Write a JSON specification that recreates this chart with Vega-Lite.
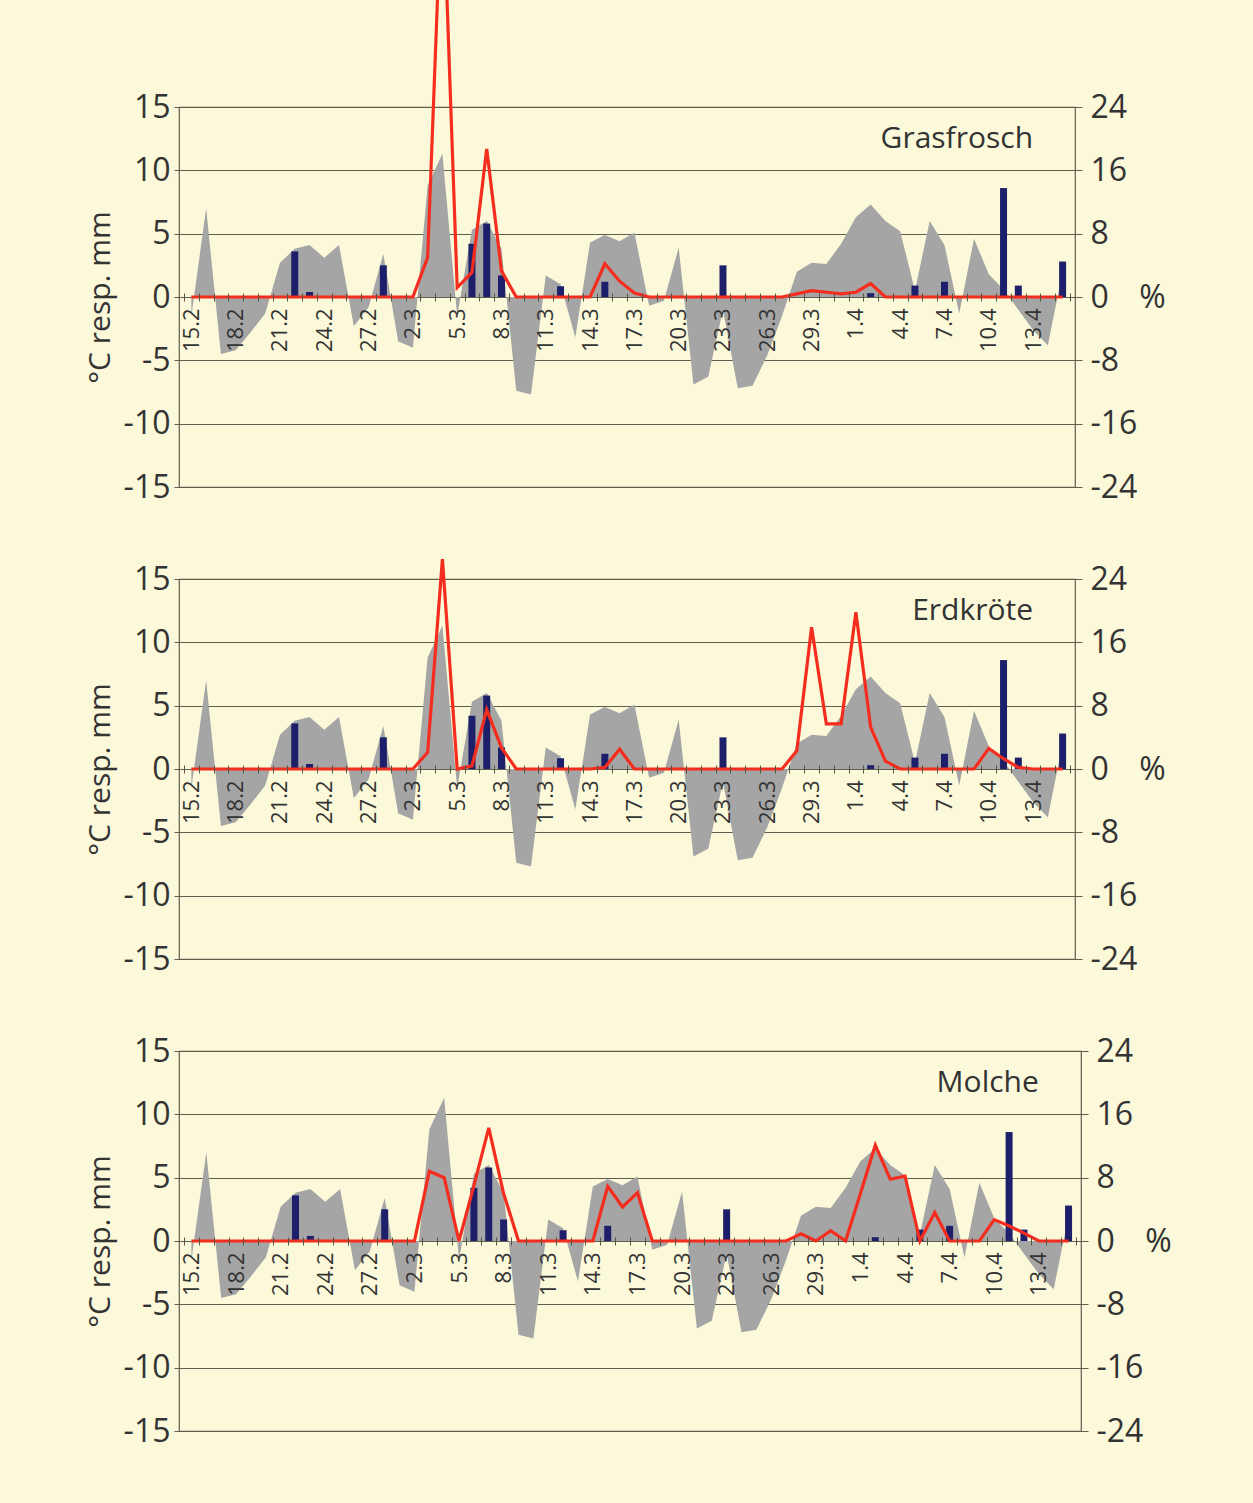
{
  "$schema": "https://vega.github.io/schema/vega-lite/v6.json",
  "background": "#fbf9da",
  "padding": {"left": 84, "top": -138, "right": 85, "bottom": 62},
  "config": {
    "view": {"stroke": "#5f5d4c", "strokeWidth": 1.2},
    "font": "Open Sans",
    "axis": {"labelColor": "#333333", "titleColor": "#333333", "gridColor": "#5f5d4c", "gridWidth": 1, "tickColor": "#5f5d4c", "domainColor": "#5f5d4c", "labelFont": "Open Sans", "titleFont": "Open Sans", "titleFontWeight": "normal"}
  },
  "datasets": {
    "days": [
      {"i":0,"d":"15.2","t":-1.5,"p":0,"g":0,"e":0,"m":0},
      {"i":1,"d":"16.2","t":7.0,"p":0,"g":0,"e":0,"m":0},
      {"i":2,"d":"17.2","t":-4.5,"p":0,"g":0,"e":0,"m":0},
      {"i":3,"d":"18.2","t":-4.2,"p":0,"g":0,"e":0,"m":0},
      {"i":4,"d":"19.2","t":-2.8,"p":0,"g":0,"e":0,"m":0},
      {"i":5,"d":"20.2","t":-1.3,"p":0,"g":0,"e":0,"m":0},
      {"i":6,"d":"21.2","t":2.7,"p":0,"g":0,"e":0,"m":0},
      {"i":7,"d":"22.2","t":3.8,"p":3.6,"g":0,"e":0,"m":0},
      {"i":8,"d":"23.2","t":4.1,"p":0.4,"g":0,"e":0,"m":0},
      {"i":9,"d":"24.2","t":3.1,"p":0,"g":0,"e":0,"m":0},
      {"i":10,"d":"25.2","t":4.1,"p":0,"g":0,"e":0,"m":0},
      {"i":11,"d":"26.2","t":-2.3,"p":0,"g":0,"e":0,"m":0},
      {"i":12,"d":"27.2","t":-0.8,"p":0,"g":0,"e":0,"m":0},
      {"i":13,"d":"28.2","t":3.4,"p":2.5,"g":0,"e":0,"m":0},
      {"i":14,"d":"1.3","t":-3.5,"p":0,"g":0,"e":0,"m":0},
      {"i":15,"d":"2.3","t":-4.0,"p":0,"g":0,"e":0,"m":0},
      {"i":16,"d":"3.3","t":8.8,"p":0,"g":5.0,"e":2.1,"m":8.8},
      {"i":17,"d":"4.3","t":11.3,"p":0,"g":54,"e":26.5,"m":8.0},
      {"i":18,"d":"5.3","t":-1.5,"p":0,"g":1.2,"e":0,"m":0},
      {"i":19,"d":"6.3","t":5.3,"p":4.2,"g":3.1,"e":0.4,"m":7.0},
      {"i":20,"d":"7.3","t":6.0,"p":5.8,"g":18.7,"e":7.5,"m":14.3},
      {"i":21,"d":"8.3","t":3.8,"p":1.7,"g":3.3,"e":2.7,"m":6.0},
      {"i":22,"d":"9.3","t":-7.4,"p":0,"g":0,"e":0,"m":0},
      {"i":23,"d":"10.3","t":-7.7,"p":0,"g":0,"e":0,"m":0},
      {"i":24,"d":"11.3","t":1.7,"p":0,"g":0,"e":0,"m":0},
      {"i":25,"d":"12.3","t":1.0,"p":0.85,"g":0,"e":0,"m":0},
      {"i":26,"d":"13.3","t":-3.2,"p":0,"g":0,"e":0,"m":0},
      {"i":27,"d":"14.3","t":4.3,"p":0,"g":0,"e":0,"m":0},
      {"i":28,"d":"15.3","t":4.9,"p":1.2,"g":4.2,"e":0.2,"m":6.9},
      {"i":29,"d":"16.3","t":4.4,"p":0,"g":2.0,"e":2.5,"m":4.3},
      {"i":30,"d":"17.3","t":5.1,"p":0,"g":0.5,"e":0,"m":6.1},
      {"i":31,"d":"18.3","t":-0.7,"p":0,"g":0,"e":0,"m":0},
      {"i":32,"d":"19.3","t":-0.3,"p":0,"g":0,"e":0,"m":0},
      {"i":33,"d":"20.3","t":3.9,"p":0,"g":0,"e":0,"m":0},
      {"i":34,"d":"21.3","t":-6.9,"p":0,"g":0,"e":0,"m":0},
      {"i":35,"d":"22.3","t":-6.3,"p":0,"g":0,"e":0,"m":0},
      {"i":36,"d":"23.3","t":-1.0,"p":2.5,"g":0,"e":0,"m":0},
      {"i":37,"d":"24.3","t":-7.2,"p":0,"g":0,"e":0,"m":0},
      {"i":38,"d":"25.3","t":-7.0,"p":0,"g":0,"e":0,"m":0},
      {"i":39,"d":"26.3","t":-4.6,"p":0,"g":0,"e":0,"m":0},
      {"i":40,"d":"27.3","t":-1.5,"p":0,"g":0,"e":0,"m":0},
      {"i":41,"d":"28.3","t":2.0,"p":0,"g":0.4,"e":2.3,"m":0.9},
      {"i":42,"d":"29.3","t":2.7,"p":0,"g":0.8,"e":17.9,"m":0},
      {"i":43,"d":"30.3","t":2.6,"p":0,"g":0.6,"e":5.7,"m":1.3},
      {"i":44,"d":"31.3","t":4.2,"p":0,"g":0.4,"e":5.7,"m":0},
      {"i":45,"d":"1.4","t":6.3,"p":0,"g":0.6,"e":19.8,"m":6.0},
      {"i":46,"d":"2.4","t":7.3,"p":0.3,"g":1.7,"e":5.3,"m":12.1},
      {"i":47,"d":"3.4","t":6.0,"p":0,"g":0,"e":1.0,"m":7.8},
      {"i":48,"d":"4.4","t":5.2,"p":0,"g":0,"e":0,"m":8.2},
      {"i":49,"d":"5.4","t":0.5,"p":0.9,"g":0,"e":0,"m":0},
      {"i":50,"d":"6.4","t":6.0,"p":0,"g":0,"e":0,"m":3.6},
      {"i":51,"d":"7.4","t":4.1,"p":1.2,"g":0,"e":0,"m":0},
      {"i":52,"d":"8.4","t":-1.3,"p":0,"g":0,"e":0,"m":0},
      {"i":53,"d":"9.4","t":4.6,"p":0,"g":0,"e":0,"m":0},
      {"i":54,"d":"10.4","t":1.8,"p":0,"g":0,"e":2.6,"m":2.7},
      {"i":55,"d":"11.4","t":0.6,"p":8.6,"g":0,"e":1.3,"m":1.9},
      {"i":56,"d":"12.4","t":-1.0,"p":0.9,"g":0,"e":0.2,"m":1.0},
      {"i":57,"d":"13.4","t":-2.6,"p":0,"g":0,"e":0,"m":0},
      {"i":58,"d":"14.4","t":-3.8,"p":0,"g":0,"e":0,"m":0},
      {"i":59,"d":"15.4","t":2.0,"p":2.8,"g":0,"e":0,"m":0}
    ]
  },
  "data": {"name": "days"},
  "spacing": 92,
  "bounds": "flush",
  "vconcat": [
    {
      "width": 896, "height": 380,
      "layer": [
        {"layer": [
          {"mark": {"type": "area", "color": "#a5a5a5", "orient": "vertical"},
           "encoding": {
             "x": {"field": "i", "type": "quantitative", "scale": {"domain": [-0.5, 59.5], "nice": false, "zero": false},
                   "axis": {"values": [0,3,6,9,12,15,18,21,24,27,30,33,36,39,42,45,48,51,54,57], "labelExpr": "['15.2','18.2','21.2','24.2','27.2','2.3','5.3','8.3','11.3','14.3','17.3','20.3','23.3','26.3','29.3','1.4','4.4','7.4','10.4','13.4'][datum.value/3]", "labelAngle": -90, "labelAlign": "right", "labelBaseline": "middle", "ticks": false, "tickSize": 0, "domain": false, "grid": false, "offset": -190, "labelPadding": 11, "labelFontSize": 22, "labelOverlap": false, "labelBound": false, "labelFlush": false, "zindex": 2, "title": null}},
             "y": {"field": "t", "type": "quantitative", "scale": {"domain": [-15, 15], "nice": false},
                   "axis": {"values": [-15,-10,-5,0,5,10,15], "labelExpr": "'' + datum.value", "grid": true, "domain": false, "tickSize": 5, "labelPadding": 4, "labelFontSize": 32, "title": "°C resp. mm", "titleFontSize": 30, "titlePadding": 8}}
           }},
          {"mark": {"type": "bar", "color": "#1d1f6a", "width": 7, "orient": "vertical"},
           "encoding": {"x": {"field": "i", "type": "quantitative"}, "y": {"field": "p", "type": "quantitative"}}},
          {"data": {"values": [{"label": "Grasfrosch"}]},
           "mark": {"type": "text", "align": "right", "baseline": "middle", "fontSize": 30, "color": "#333333"},
           "encoding": {"x": {"datum": 57, "type": "quantitative"}, "y": {"datum": 12.5, "type": "quantitative"}, "text": {"field": "label"}}}
        ]},
        {"mark": {"type": "line", "color": "#f52d1f", "strokeWidth": 3.2},
         "encoding": {
           "x": {"field": "i", "type": "quantitative",
                 "axis": {"values": [-0.5,0.5,1.5,2.5,3.5,4.5,5.5,6.5,7.5,8.5,9.5,10.5,11.5,12.5,13.5,14.5,15.5,16.5,17.5,18.5,19.5,20.5,21.5,22.5,23.5,24.5,25.5,26.5,27.5,28.5,29.5,30.5,31.5,32.5,33.5,34.5,35.5,36.5,37.5,38.5,39.5,40.5,41.5,42.5,43.5,44.5,45.5,46.5,47.5,48.5,49.5,50.5,51.5,52.5,53.5,54.5,55.5,56.5,57.5,58.5,59.5], "labels": false, "domain": false, "grid": false, "ticks": true, "tickSize": 8, "tickColor": "#555544", "offset": -194, "zindex": 1, "title": null}},
           "y": {"field": "g", "type": "quantitative", "scale": {"domain": [-24, 24], "nice": false},
                 "axis": {"orient": "right", "values": [-24,-16,-8,0,8,16,24], "labelExpr": "'' + datum.value", "grid": false, "domain": false, "tickSize": 7, "labelPadding": 8, "labelFontSize": 32, "title": "%", "titleFontSize": 32, "titleAngle": 0, "titleAlign": "center", "titleBaseline": "middle", "titleX": 77, "titleY": 190}}
         }}
      ],
      "resolve": {"scale": {"y": "independent"}, "axis": {"x": "independent"}}
    },
    {
      "width": 896, "height": 380,
      "layer": [
        {"layer": [
          {"mark": {"type": "area", "color": "#a5a5a5", "orient": "vertical"},
           "encoding": {
             "x": {"field": "i", "type": "quantitative", "scale": {"domain": [-0.5, 59.5], "nice": false, "zero": false},
                   "axis": {"values": [0,3,6,9,12,15,18,21,24,27,30,33,36,39,42,45,48,51,54,57], "labelExpr": "['15.2','18.2','21.2','24.2','27.2','2.3','5.3','8.3','11.3','14.3','17.3','20.3','23.3','26.3','29.3','1.4','4.4','7.4','10.4','13.4'][datum.value/3]", "labelAngle": -90, "labelAlign": "right", "labelBaseline": "middle", "ticks": false, "tickSize": 0, "domain": false, "grid": false, "offset": -190, "labelPadding": 11, "labelFontSize": 22, "labelOverlap": false, "labelBound": false, "labelFlush": false, "zindex": 2, "title": null}},
             "y": {"field": "t", "type": "quantitative", "scale": {"domain": [-15, 15], "nice": false},
                   "axis": {"values": [-15,-10,-5,0,5,10,15], "labelExpr": "'' + datum.value", "grid": true, "domain": false, "tickSize": 5, "labelPadding": 4, "labelFontSize": 32, "title": "°C resp. mm", "titleFontSize": 30, "titlePadding": 8}}
           }},
          {"mark": {"type": "bar", "color": "#1d1f6a", "width": 7, "orient": "vertical"},
           "encoding": {"x": {"field": "i", "type": "quantitative"}, "y": {"field": "p", "type": "quantitative"}}},
          {"data": {"values": [{"label": "Erdkröte"}]},
           "mark": {"type": "text", "align": "right", "baseline": "middle", "fontSize": 30, "color": "#333333"},
           "encoding": {"x": {"datum": 57, "type": "quantitative"}, "y": {"datum": 12.5, "type": "quantitative"}, "text": {"field": "label"}}}
        ]},
        {"mark": {"type": "line", "color": "#f52d1f", "strokeWidth": 3.2},
         "encoding": {
           "x": {"field": "i", "type": "quantitative",
                 "axis": {"values": [-0.5,0.5,1.5,2.5,3.5,4.5,5.5,6.5,7.5,8.5,9.5,10.5,11.5,12.5,13.5,14.5,15.5,16.5,17.5,18.5,19.5,20.5,21.5,22.5,23.5,24.5,25.5,26.5,27.5,28.5,29.5,30.5,31.5,32.5,33.5,34.5,35.5,36.5,37.5,38.5,39.5,40.5,41.5,42.5,43.5,44.5,45.5,46.5,47.5,48.5,49.5,50.5,51.5,52.5,53.5,54.5,55.5,56.5,57.5,58.5,59.5], "labels": false, "domain": false, "grid": false, "ticks": true, "tickSize": 8, "tickColor": "#555544", "offset": -194, "zindex": 1, "title": null}},
           "y": {"field": "e", "type": "quantitative", "scale": {"domain": [-24, 24], "nice": false},
                 "axis": {"orient": "right", "values": [-24,-16,-8,0,8,16,24], "labelExpr": "'' + datum.value", "grid": false, "domain": false, "tickSize": 7, "labelPadding": 8, "labelFontSize": 32, "title": "%", "titleFontSize": 32, "titleAngle": 0, "titleAlign": "center", "titleBaseline": "middle", "titleX": 77, "titleY": 190}}
         }}
      ],
      "resolve": {"scale": {"y": "independent"}, "axis": {"x": "independent"}}
    },
    {
      "width": 902, "height": 380,
      "layer": [
        {"layer": [
          {"mark": {"type": "area", "color": "#a5a5a5", "orient": "vertical"},
           "encoding": {
             "x": {"field": "i", "type": "quantitative", "scale": {"domain": [-0.5, 59.5], "nice": false, "zero": false},
                   "axis": {"values": [0,3,6,9,12,15,18,21,24,27,30,33,36,39,42,45,48,51,54,57], "labelExpr": "['15.2','18.2','21.2','24.2','27.2','2.3','5.3','8.3','11.3','14.3','17.3','20.3','23.3','26.3','29.3','1.4','4.4','7.4','10.4','13.4'][datum.value/3]", "labelAngle": -90, "labelAlign": "right", "labelBaseline": "middle", "ticks": false, "tickSize": 0, "domain": false, "grid": false, "offset": -190, "labelPadding": 11, "labelFontSize": 22, "labelOverlap": false, "labelBound": false, "labelFlush": false, "zindex": 2, "title": null}},
             "y": {"field": "t", "type": "quantitative", "scale": {"domain": [-15, 15], "nice": false},
                   "axis": {"values": [-15,-10,-5,0,5,10,15], "labelExpr": "'' + datum.value", "grid": true, "domain": false, "tickSize": 5, "labelPadding": 4, "labelFontSize": 32, "title": "°C resp. mm", "titleFontSize": 30, "titlePadding": 8}}
           }},
          {"mark": {"type": "bar", "color": "#1d1f6a", "width": 7, "orient": "vertical"},
           "encoding": {"x": {"field": "i", "type": "quantitative"}, "y": {"field": "p", "type": "quantitative"}}},
          {"data": {"values": [{"label": "Molche"}]},
           "mark": {"type": "text", "align": "right", "baseline": "middle", "fontSize": 30, "color": "#333333"},
           "encoding": {"x": {"datum": 57, "type": "quantitative"}, "y": {"datum": 12.5, "type": "quantitative"}, "text": {"field": "label"}}}
        ]},
        {"mark": {"type": "line", "color": "#f52d1f", "strokeWidth": 3.2},
         "encoding": {
           "x": {"field": "i", "type": "quantitative",
                 "axis": {"values": [-0.5,0.5,1.5,2.5,3.5,4.5,5.5,6.5,7.5,8.5,9.5,10.5,11.5,12.5,13.5,14.5,15.5,16.5,17.5,18.5,19.5,20.5,21.5,22.5,23.5,24.5,25.5,26.5,27.5,28.5,29.5,30.5,31.5,32.5,33.5,34.5,35.5,36.5,37.5,38.5,39.5,40.5,41.5,42.5,43.5,44.5,45.5,46.5,47.5,48.5,49.5,50.5,51.5,52.5,53.5,54.5,55.5,56.5,57.5,58.5,59.5], "labels": false, "domain": false, "grid": false, "ticks": true, "tickSize": 8, "tickColor": "#555544", "offset": -194, "zindex": 1, "title": null}},
           "y": {"field": "m", "type": "quantitative", "scale": {"domain": [-24, 24], "nice": false},
                 "axis": {"orient": "right", "values": [-24,-16,-8,0,8,16,24], "labelExpr": "'' + datum.value", "grid": false, "domain": false, "tickSize": 7, "labelPadding": 8, "labelFontSize": 32, "title": "%", "titleFontSize": 32, "titleAngle": 0, "titleAlign": "center", "titleBaseline": "middle", "titleX": 77, "titleY": 190}}
         }}
      ],
      "resolve": {"scale": {"y": "independent"}, "axis": {"x": "independent"}}
    }
  ]
}
